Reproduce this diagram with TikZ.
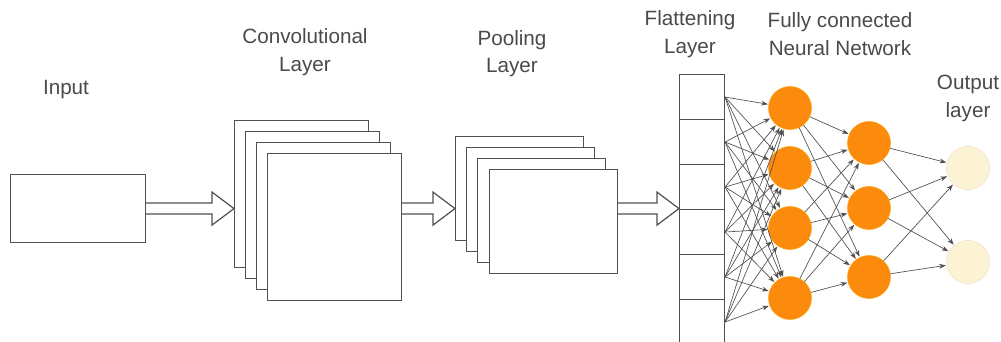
\documentclass[tikz,border=0pt]{standalone}
\usepackage{fontspec}
\setmainfont{Liberation Sans}
\usetikzlibrary{arrows.meta,calc}
\definecolor{txt}{HTML}{4A4A4A}
\definecolor{ln}{HTML}{505050}
\definecolor{neur}{HTML}{FC8A0C}
\definecolor{outf}{HTML}{FCF3D4}
\definecolor{outd}{HTML}{F3E2BE}
\begin{document}
\begin{tikzpicture}[x=0.75pt,y=-0.75pt,
  lbl/.style={text=txt,font=\fontsize{15.5pt}{20.5pt}\selectfont,align=center,inner sep=0pt},
  box/.style={draw=ln,line width=0.9pt,fill=white,anchor=north west,inner sep=0pt},
  cell/.style={draw=ln,line width=0.8pt,fill=white,anchor=north west,inner sep=0pt,minimum width=45*0.75pt,minimum height=45*0.75pt},
  blk/.style={draw=ln,line width=0.9pt,fill=white,line join=miter},
  neuron/.style={circle,fill=neur,draw=neur!80!yellow,line width=0.4pt,minimum size=43*0.75pt,inner sep=0pt},
  outn/.style={circle,fill=outf,draw=outd,line width=0.4pt,minimum size=43*0.75pt,inner sep=0pt},
  conn/.style={draw=ln,line width=0.5pt,-{Stealth[length=5pt,width=3.6pt]},shorten >=0.5pt}]
\useasboundingbox (0,0) rectangle (1001,342);
% labels
\node[lbl] (tin) at (66,90) {Input};
\node[lbl] (tconv) at (305,52) {Convolutional\\Layer};
\node[lbl] (tpool) at (512,53.5) {Pooling\\Layer};
\node[lbl] (tflat) at (690,34) {Flattening\\Layer};
\node[lbl] (tfc) at (840,34) {Fully connected\\Neural Network};
\node[lbl] (tout) at (968,98.5) {Output\\layer};
% input
\node[box,minimum width=135*0.75pt,minimum height=68*0.75pt] (in) at (10,174) {};
% conv stack
\node[box,minimum width=134*0.75pt,minimum height=147*0.75pt] (c1) at (234,120) {};
\node[box,minimum width=134*0.75pt,minimum height=147*0.75pt] (c2) at (245,131) {};
\node[box,minimum width=134*0.75pt,minimum height=147*0.75pt] (c3) at (256,142) {};
\node[box,minimum width=134*0.75pt,minimum height=147*0.75pt] (c4) at (267,153) {};
% pool stack
\node[box,minimum width=128*0.75pt,minimum height=104*0.75pt] (p1) at (455,136) {};
\node[box,minimum width=128*0.75pt,minimum height=104*0.75pt] (p2) at (466,147) {};
\node[box,minimum width=128*0.75pt,minimum height=104*0.75pt] (p3) at (477,158) {};
\node[box,minimum width=128*0.75pt,minimum height=104*0.75pt] (p4) at (489,169) {};
% flatten cells
\foreach \i in {1,...,6} {
  \node[cell] (f\i) at (679,{74+45*(\i-1)}) {};
}
% block arrows
\coordinate (a1s) at (in.east);
\coordinate (a1e) at (in.east -| c1.west);
\coordinate (a2s) at (a1s -| c4.east);
\coordinate (a2e) at (a1s -| p1.west);
\coordinate (a3s) at (a1s -| p4.east);
\coordinate (a3e) at (a1s -| f1.west);
\foreach \s/\e in {a1s/a1e,a2s/a2e,a3s/a3e} {
  \draw[blk] ($(\s)+(0,-5.5)$) -- ($(\e)+(-22,-5.5)$) -- ($(\e)+(-22,-16.5)$) -- (\e)
    -- ($(\e)+(-22,16.5)$) -- ($(\e)+(-22,5.5)$) -- ($(\s)+(0,5.5)$);
}
% neurons
\node[neuron] (h1) at (790,108) {};
\node[neuron] (h2) at (790,168) {};
\node[neuron] (h3) at (790,228) {};
\node[neuron] (h4) at (790,298) {};
\node[neuron] (g1) at (869,143) {};
\node[neuron] (g2) at (869,208) {};
\node[neuron] (g3) at (869,277) {};
\node[outn] (o1) at (968,168) {};
\node[outn] (o2) at (968,262) {};
% connections
\foreach \i in {1,...,6} {
  \foreach \j in {1,...,4} {
    \draw[conn] (f\i.east) -- (h\j);
  }
}
\foreach \i in {1,...,4} {
  \foreach \j in {1,...,3} {
    \draw[conn] (h\i) -- (g\j);
  }
}
\foreach \i in {1,...,3} {
  \foreach \j in {1,2} {
    \draw[conn] (g\i) -- (o\j);
  }
}
\end{tikzpicture}
\end{document}
